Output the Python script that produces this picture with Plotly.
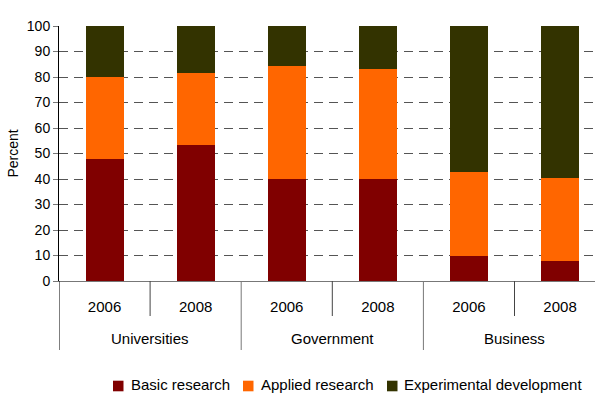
import plotly.graph_objects as go

sectors = ["Universities", "Government", "Business"]
years = ["2006", "2008", "2006", "2008", "2006", "2008"]

basic = [48.0, 53.3, 40.0, 40.0, 10.0, 7.8]
applied = [32.0, 28.3, 44.5, 43.3, 32.8, 32.6]
experimental = [20.0, 18.4, 15.5, 16.7, 57.2, 59.6]

series_names = ["Basic research", "Applied research", "Experimental development"]
series_values = [basic, applied, experimental]
series_colors = ["#800000", "#FF6600", "#333300"]

FONT = "Liberation Sans, Arial, sans-serif"

# plot area geometry (pixels)
L, R, T, B = 59, 0, 26, 112
W, H = 595, 393
PW, PH = W - L - R, H - T - B

xs = list(range(len(years)))
per_group = len(years) // len(sectors)
x_lo, x_hi = -0.5, -0.5 + PW / 91.1


def px_to_paper_x(px):
    return (px - L) / PW


def px_to_paper_y(py):
    return (H - B - py) / PH


fig = go.Figure()
for name, vals, color in zip(series_names, series_values, series_colors):
    fig.add_trace(go.Bar(
        x=xs, y=vals, name=name, width=0.417,
        marker=dict(color=color, line=dict(width=0)),
        showlegend=False,
    ))

fig.update_layout(
    barmode="stack",
    width=W, height=H,
    margin=dict(l=L, r=R, t=T, b=B),
    paper_bgcolor="white", plot_bgcolor="white",
    font=dict(family=FONT, size=15, color="#000"),
    showlegend=False,
    xaxis=dict(
        range=[x_lo, x_hi],
        tickvals=xs, ticktext=years,
        ticks="", ticklabelstandoff=12,
        showline=True, linecolor="#777", linewidth=1,
        showgrid=False, zeroline=False,
        tickfont=dict(size=15),
    ),
    yaxis=dict(
        range=[0, 100], dtick=10,
        showline=True, linecolor="#000", linewidth=1,
        ticks="outside", ticklen=5, tickcolor="#777",
        showgrid=True, gridcolor="#555", griddash="9px,6px", gridwidth=1,
        zeroline=False,
        tickfont=dict(size=14),
        title=dict(text="Percent", font=dict(size=14), standoff=4),
    ),
)

# separators below the axis: short ones between years, long ones between sectors
short_y = px_to_paper_y(316)
long_y = px_to_paper_y(350)
fig.add_shape(type="line", xref="x", yref="paper",
              x0=x_lo, x1=x_lo, y0=0, y1=long_y,
              line=dict(color="#000", width=1))
for i in range(1, len(years)):
    b = i - 0.5
    is_group_edge = i % per_group == 0
    fig.add_shape(type="line", xref="x", yref="paper",
                  x0=b, x1=b, y0=0, y1=long_y if is_group_edge else short_y,
                  line=dict(color="#777" if is_group_edge else "#444", width=1))

# sector labels centred under each pair of bars
for g, sector in enumerate(sectors):
    center = g * per_group + (per_group - 1) / 2
    fig.add_annotation(x=center, xref="x", y=px_to_paper_y(338.5), yref="paper",
                       text=sector, showarrow=False, xanchor="center", yanchor="middle",
                       font=dict(size=15))

# legend row
legend_square_px = [113, 243, 387]
legend_text_px = [128.5, 258.5, 401.5]
legend_cy = 386
for name, color, sx, tx in zip(series_names, series_colors, legend_square_px, legend_text_px):
    fig.add_shape(type="rect", xref="paper", yref="paper",
                  x0=px_to_paper_x(sx), x1=px_to_paper_x(sx + 10.5),
                  y0=px_to_paper_y(legend_cy - 5.3), y1=px_to_paper_y(legend_cy + 5.3),
                  fillcolor=color, line=dict(width=0))
    fig.add_annotation(x=px_to_paper_x(tx), xref="paper", y=px_to_paper_y(legend_cy - 1),
                       yref="paper", text=name, showarrow=False,
                       xanchor="left", yanchor="middle", font=dict(size=15))

fig.write_html("out.html")
